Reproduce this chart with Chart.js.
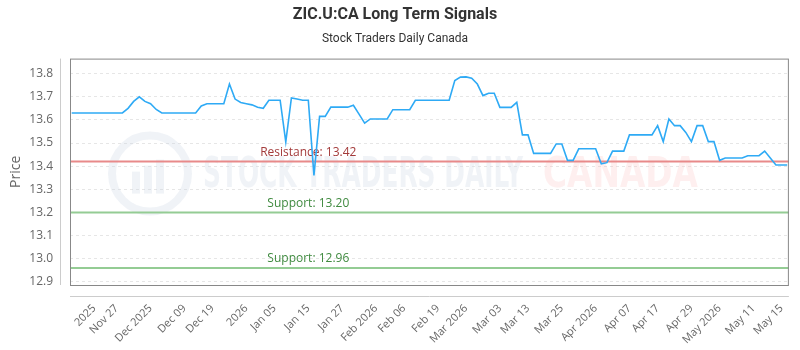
<!DOCTYPE html>
<html>
<head>
<meta charset="utf-8">
<script src="https://cdn.jsdelivr.net/npm/chart.js@4"></script>
<style>
  body { margin: 0; background: #fff; }
  #box { width: 800px; height: 350px; }
</style>
</head>
<body>
<div id="box"><canvas id="grafico"></canvas></div>
<script>
// DATI --------------------
var prezzi = [
  13.63, 13.63, 13.63, 13.63, 13.63, 13.63, 13.63, 13.63, 13.63, 13.63,
  13.65, 13.68, 13.70, 13.68, 13.67, 13.645, 13.63, 13.63, 13.63, 13.63,
  13.63, 13.63, 13.63, 13.66, 13.67, 13.67, 13.67, 13.67, 13.755, 13.69,
  13.675, 13.67, 13.665, 13.655, 13.65, 13.685, 13.685, 13.685, 13.505, 13.695,
  13.69, 13.685, 13.685, 13.36, 13.615, 13.615, 13.655, 13.655, 13.655, 13.655,
  13.663, 13.625, 13.586, 13.604, 13.604, 13.604, 13.604, 13.644, 13.644, 13.644,
  13.644, 13.685, 13.685, 13.685, 13.685, 13.685, 13.685, 13.685, 13.77, 13.785,
  13.786, 13.78, 13.755, 13.705, 13.715, 13.715, 13.654, 13.654, 13.654, 13.676,
  13.535, 13.535, 13.455, 13.455, 13.455, 13.455, 13.496, 13.496, 13.425, 13.425,
  13.475, 13.475, 13.475, 13.475, 13.41, 13.415, 13.465, 13.465, 13.465, 13.535,
  13.535, 13.535, 13.535, 13.535, 13.575, 13.506, 13.604, 13.575, 13.575, 13.546,
  13.506, 13.575, 13.575, 13.506, 13.506, 13.425, 13.435, 13.435, 13.435, 13.435,
  13.445, 13.445, 13.445, 13.465, 13.435, 13.405, 13.405, 13.405
];
var tickPos = [4, 8, 14, 20, 25, 31, 36, 42, 48, 54, 59, 65, 70, 76, 81, 87, 93, 99, 104, 110, 115, 121, 126];
var tickLabels = ['2025', 'Nov 27', 'Dec 2025', 'Dec 09', 'Dec 19', '2026', 'Jan 05', 'Jan 15', 'Jan 27', 'Feb 2026', 'Feb 06', 'Feb 19', 'Mar 2026', 'Mar 03', 'Mar 13', 'Mar 25', 'Apr 2026', 'Apr 07', 'Apr 17', 'Apr 29', 'May 2026', 'May 11', 'May 15'];
var yTicks = [12.9, 13.0, 13.1, 13.2, 13.3, 13.4, 13.5, 13.6, 13.7, 13.8];
var livelli = [13.42, 13.20, 12.96];
var livelliNomi = ['Resistance', 'Support', 'Support'];
var livelliColori = ['#e88a8a', '#94cc94', '#94cc94'];
var livelliTesto = ['#a33a3a', '#3f8a3f', '#3f8a3f'];
var labelPos = 42;

var punti = prezzi.map(function(v, i){ return {x: i, y: v}; });

// SFONDO: filigrana e cornice
var sfondo = {
  id: 'sfondo',
  beforeDatasetsDraw: function(chart){
    var c = chart.ctx, a = chart.chartArea;
    var cy = a.top + 117;
    c.save();
    // logo
    c.strokeStyle = 'rgba(205,214,228,0.3)';
    c.lineWidth = 8;
    c.beginPath();
    c.arc(150, cy - 2, 38, 0, Math.PI * 2);
    c.stroke();
    c.fillStyle = 'rgba(205,214,228,0.3)';
    c.fillRect(132, cy - 4, 8, 22);
    c.fillRect(144, cy - 10, 8, 28);
    c.fillRect(156, cy - 16, 8, 34);
    // testo
    c.textBaseline = 'middle';
    c.font = 'bold 42px "Liberation Sans Narrow", "DejaVu Sans Condensed", Roboto, sans-serif';
    var t1 = 'STOCK TRADERS DAILY', t2 = 'CANADA';
    var w1 = c.measureText(t1).width, w2 = c.measureText(t2).width;
    c.save();
    c.translate(203, cy);
    c.scale(320 / w1, 1);
    c.fillStyle = 'rgba(205,214,228,0.3)';
    c.fillText(t1, 0, 0);
    c.restore();
    c.save();
    c.translate(543, cy);
    c.scale(155 / w2, 1);
    c.fillStyle = 'rgba(250,190,190,0.25)';
    c.fillText(t2, 0, 0);
    c.restore();
    // livelli
    var y = chart.scales.y, x = chart.scales.x;
    c.font = '12px "Open Sans", sans-serif';
    c.textAlign = 'center';
    c.textBaseline = 'middle';
    for (var i = 0; i < livelli.length; i++) {
      var py = y.getPixelForValue(livelli[i]);
      c.strokeStyle = livelliColori[i];
      c.lineWidth = 2;
      c.beginPath();
      c.moveTo(a.left, py);
      c.lineTo(a.right, py);
      c.stroke();
      c.fillStyle = livelliTesto[i];
      c.fillText(livelliNomi[i] + ': ' + livelli[i].toFixed(2), x.getPixelForValue(labelPos), py - 9);
    }
    c.restore();
  },
  afterDraw: function(chart){
    var c = chart.ctx, a = chart.chartArea;
    c.save();
    c.strokeStyle = '#888';
    c.lineWidth = 1;
    c.strokeRect(a.left + 0.5, a.top + 0.5, a.right - a.left - 1, a.bottom - a.top);
    c.strokeStyle = '#ccc';
    c.beginPath();
    c.moveTo(a.left - 9.5, a.top);
    c.lineTo(a.left - 9.5, a.bottom);
    c.moveTo(a.left, a.bottom + 11.5);
    c.lineTo(a.right, a.bottom + 11.5);
    c.stroke();
    c.restore();
  }
};

var ctx = document.getElementById('grafico');
var chart = new Chart(ctx, {
  type: 'line',
  data: {
    datasets: [{
      label: 'ZIC.U:CA',
      data: punti,
      borderColor: '#2eaaf5',
      borderWidth: 1.6,
      pointRadius: 0,
      tension: 0
    }]
  },
  options: {
    responsive: true,
    maintainAspectRatio: false,
    animation: false,
    layout: { padding: { left: 0, right: 10, top: 0, bottom: 0 } },
    plugins: {
      legend: { display: false },
      tooltip: { enabled: false },
      title: {
        display: true,
        text: 'ZIC.U:CA Long Term Signals',
        color: '#333',
        font: { family: 'Roboto', size: 16, weight: 'bold' },
        padding: { top: 5, bottom: 8 }
      },
      subtitle: {
        display: true,
        text: 'Stock Traders Daily Canada',
        color: '#333',
        font: { family: 'Roboto', size: 12 },
        padding: { top: 0, bottom: 12 }
      }
    },
    scales: {
      x: {
        type: 'linear',
        min: -0.3,
        max: 127.3,
        afterFit: function(s){ s.height = 65; },
        afterBuildTicks: function(s){
          s.ticks = tickPos.map(function(p){ return {value: p}; });
        },
        grid: { display: false },
        border: { display: false },
        ticks: {
          autoSkip: false,
          minRotation: 45,
          maxRotation: 45,
          padding: 9,
          color: '#666',
          font: { family: 'Open Sans', size: 11 },
          callback: function(v){
            var k = tickPos.indexOf(v);
            return k >= 0 ? tickLabels[k] : '';
          }
        }
      },
      y: {
        min: 12.886,
        max: 13.865,
        afterFit: function(s){ s.width = 70; },
        afterBuildTicks: function(s){
          s.ticks = yTicks.map(function(v){ return {value: v}; });
        },
        grid: { color: '#e6e6e6', drawTicks: false },
        border: { display: false, dash: [3, 3] },
        ticks: {
          padding: 17,
          color: '#666',
          font: { family: 'Open Sans', size: 12 },
          callback: function(v){ return v.toFixed(1); }
        },
        title: {
          display: true,
          text: 'Price',
          color: '#666',
          font: { family: 'Open Sans', size: 14 },
          padding: { top: 8, bottom: 0 }
        }
      }
    }
  },
  plugins: [sfondo]
});
</script>
</body>
</html>
